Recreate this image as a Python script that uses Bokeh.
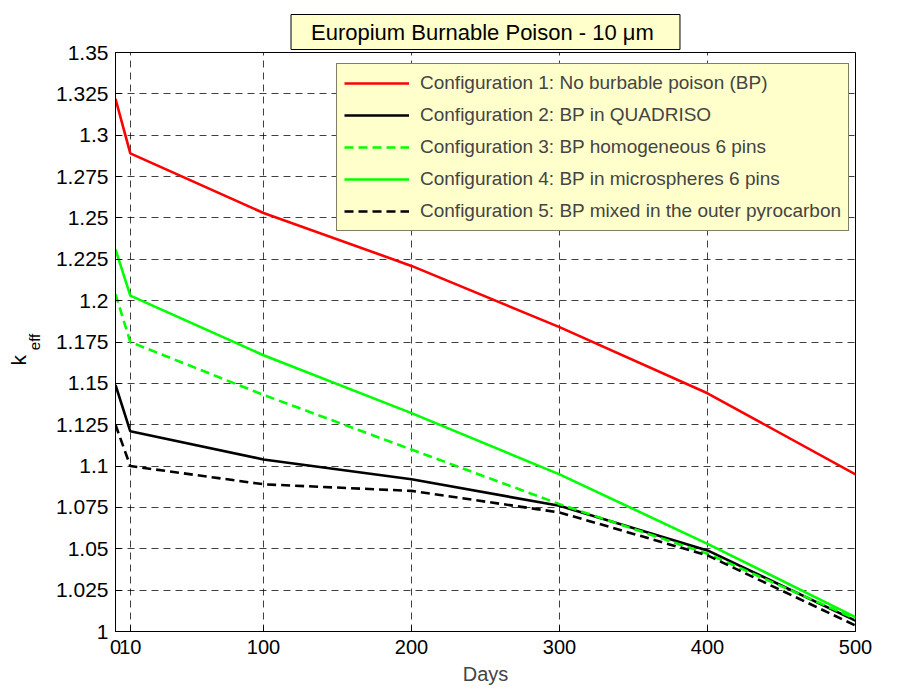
import numpy as np
from bokeh.plotting import figure
from bokeh.models import (FixedTicker, Legend, LegendItem, Title, Range1d)
from bokeh.embed import file_html
from bokeh.resources import INLINE

# ---------------- data ----------------
days = [0, 10, 100, 200, 300, 400, 500]
config1 = [1.322, 1.289, 1.253, 1.221, 1.184, 1.144, 1.095]
config2 = [1.149, 1.121, 1.104, 1.092, 1.076, 1.049, 1.0066]
config3 = [1.204, 1.175, 1.143, 1.110, 1.077, 1.047, 1.0077]
config4 = [1.231, 1.203, 1.167, 1.132, 1.095, 1.053, 1.0087]
config5 = [1.125, 1.100, 1.089, 1.085, 1.072, 1.046, 1.0036]

x_ticks = [0, 10, 100, 200, 300, 400, 500]
y_ticks = [1.0, 1.025, 1.05, 1.075, 1.1, 1.125, 1.15, 1.175, 1.2, 1.225,
           1.25, 1.275, 1.3, 1.325, 1.35]
y_tick_labels = ["1", "1.025", "1.05", "1.075", "1.1", "1.125", "1.15", "1.175",
                 "1.2", "1.225", "1.25", "1.275", "1.3", "1.325", "1.35"]
legend_labels = [
    "Configuration 1: No burbable poison (BP)",
    "Configuration 2: BP in QUADRISO",
    "Configuration 3: BP homogeneous 6 pins",
    "Configuration 4: BP in microspheres 6 pins",
    "Configuration 5: BP mixed in the outer pyrocarbon",
]
title_text = "Europium Burnable Poison  - 10 \u03bcm"
x_label = "Days"
y_label_main = "k"
y_label_sub = "eff"

FONT = "Liberation Sans"

p = figure(width=924, height=690, output_backend="svg", toolbar_location=None,
           x_range=Range1d(0, 500), y_range=Range1d(1.0, 1.35),
           min_border_left=115, min_border_right=69,
           min_border_top=52, min_border_bottom=59)
p.background_fill_color = "white"
p.border_fill_color = "white"
p.outline_line_color = "black"
p.outline_line_width = 1
p.outline_line_alpha = 1

# axes
p.xaxis.ticker = FixedTicker(ticks=x_ticks)
p.yaxis.ticker = FixedTicker(ticks=y_ticks)
p.yaxis.major_label_overrides = dict(zip(y_ticks, y_tick_labels))
for ax in (p.xaxis[0], p.yaxis[0]):
    ax.axis_line_color = "black"
    ax.major_tick_in = 6
    ax.major_tick_out = 0
    ax.minor_tick_line_color = None
    ax.major_tick_line_color = "black"
    ax.major_label_text_font = FONT
    ax.major_label_text_font_size = "20px"
    ax.major_label_text_color = "black"
p.yaxis.major_label_text_font_size = "21px"
p.xaxis.major_label_standoff = 8
p.yaxis.major_label_standoff = 7
p.xaxis.axis_label = x_label
p.xaxis.axis_label_text_font = FONT
p.xaxis.axis_label_text_font_size = "20px"
p.xaxis.axis_label_text_font_style = "normal"
p.xaxis.axis_label_standoff = 6

# subscript part of the y label sits next to the tick labels
p.yaxis.axis_label = y_label_sub
p.yaxis.axis_label_text_font = FONT
p.yaxis.axis_label_text_font_size = "15px"
p.yaxis.axis_label_text_font_style = "normal"
p.yaxis.axis_label_text_color = "black"
p.yaxis.axis_label_standoff = 10

# grid
for g in (p.xgrid[0], p.ygrid[0]):
    g.grid_line_color = "black"
    g.grid_line_alpha = 0.75
    g.grid_line_dash = "7 5"
    g.grid_line_width = 1

# lines
lw = 2.6
r1 = p.line(days, config1, line_color="#ff0000", line_width=lw)
r2 = p.line(days, config2, line_color="#000000", line_width=lw)
r3 = p.line(days, config3, line_color="#00ff00", line_width=lw, line_dash="9 5")
r4 = p.line(days, config4, line_color="#00ff00", line_width=lw)
r5 = p.line(days, config5, line_color="#000000", line_width=lw, line_dash="9 5")

legend = Legend(
    items=[LegendItem(label=lab, renderers=[r]) for lab, r in
           zip(legend_labels, [r1, r2, r3, r4, r5])],
    location=(221, 400),
    background_fill_color="#ffffcc", background_fill_alpha=1,
    border_line_color="black", border_line_width=1,
    label_text_font=FONT, label_text_font_size="19px",
    glyph_width=65, glyph_height=24, label_height=24,
    label_standoff=11, spacing=8, padding=7, margin=0,
)
p.add_layout(legend)

# title box (above the frame)
t = Title(text=title_text, align="center", vertical_align="bottom",
          text_font=FONT, text_font_size="22px", text_font_style="normal",
          text_color="black", standoff=6,
          padding=dict(left=20, right=20, top=5, bottom=5),
          background_fill_color="#ffffcc", border_line_color="black",
          border_line_width=1)
p.add_layout(t, "above")

# main letter of the y label (left side, rotated)
tk = Title(text=y_label_main, align="left", offset=266, vertical_align="bottom",
           text_font=FONT, text_font_size="21px", text_font_style="normal",
           text_color="black", standoff=-14)
p.add_layout(tk, "left")

open("out.html", "w").write(file_html(p, INLINE))
